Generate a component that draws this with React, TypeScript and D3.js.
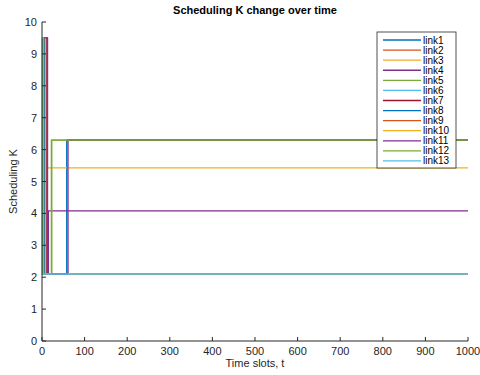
import React from 'react';
import * as d3 from 'd3';

// Scheduling K per link, step points [t, K]
const link1: [number, number][] = [[0, 9.5], [5, 9.5], [5, 2.1], [58, 2.1], [58, 6.3], [1000, 6.3]];
const link2: [number, number][] = [[0, 9.5], [9, 9.5], [9, 2.1], [1000, 2.1]];
const link3: [number, number][] = [[0, 9.5], [3, 9.5], [3, 2.1], [7, 2.1], [7, 5.43], [1000, 5.43]];
const link4: [number, number][] = [[0, 9.5], [13, 9.5], [13, 2.1], [15, 2.1], [15, 4.08], [1000, 4.08]];
const link5: [number, number][] = [[0, 9.5], [2, 9.5], [2, 2.1], [22, 2.1], [22, 6.3], [1000, 6.3]];
const link6: [number, number][] = [[0, 9.5], [4, 9.5], [4, 2.1], [1000, 2.1]];
const link7: [number, number][] = [[0, 9.5], [10, 9.5], [10, 2.1], [1000, 2.1]];
const link8: [number, number][] = [[0, 9.5], [6, 9.5], [6, 2.1], [1000, 2.1]];
const link9: [number, number][] = [[0, 9.5], [11, 9.5], [11, 2.1], [1000, 2.1]];
const link10: [number, number][] = [[0, 9.5], [8, 9.5], [8, 2.1], [1000, 2.1]];
const link11: [number, number][] = [[0, 9.5], [12, 9.5], [12, 2.1], [61, 2.1], [61, 6.3], [1000, 6.3]];
const link12: [number, number][] = [[0, 9.5], [1, 9.5], [1, 2.1], [23, 2.1], [23, 6.3], [1000, 6.3]];
const link13: [number, number][] = [[0, 9.5], [3, 9.5], [3, 2.1], [1000, 2.1]];

const linkNames = ['link1', 'link2', 'link3', 'link4', 'link5', 'link6', 'link7', 'link8', 'link9', 'link10', 'link11', 'link12', 'link13'];
const linkData = [link1, link2, link3, link4, link5, link6, link7, link8, link9, link10, link11, link12, link13];
const palette = ['#0072BD', '#D95319', '#EDB120', '#7E2F8E', '#77AC30', '#4DBEEE', '#A2142F'];

const xTicks = [0, 100, 200, 300, 400, 500, 600, 700, 800, 900, 1000];
const yTicks = [0, 1, 2, 3, 4, 5, 6, 7, 8, 9, 10];

const W = 480, H = 375;
const margin = {left: 42, right: 12, top: 22, bottom: 34};
const font = '"Liberation Sans", Arial, Helvetica, sans-serif';
const axisColor = '#262626';

export default function App() {
  const x = d3.scaleLinear().domain([0, 1000]).range([margin.left, W - margin.right]);
  const y = d3.scaleLinear().domain([0, 10]).range([H - margin.bottom, margin.top]);
  const line = d3.line<[number, number]>().x(d => x(d[0])).y(d => y(d[1]));
  const x0 = x(0), y0 = y(0);

  const legX = 377, legY = 32, legW = 79, rowH = 10.08;

  return (
    <svg width={W} height={H} style={{position: 'absolute', left: 0, top: 0, background: '#fff'}} fontFamily={font}>
      <rect width={W} height={H} fill="#fff" />
      {linkData.map((d, i) => (
        <path key={linkNames[i]} d={line(d) || ''} fill="none" stroke={palette[i % palette.length]} strokeWidth={1.3} />
      ))}
      {/* axes */}
      <line x1={x0} x2={x(1000)} y1={y0} y2={y0} stroke={axisColor} strokeWidth={1} />
      <line x1={x0} x2={x0} y1={y0} y2={y(10)} stroke={axisColor} strokeWidth={1} />
      {xTicks.map(t => (
        <g key={'x' + t}>
          <line x1={x(t)} x2={x(t)} y1={y0} y2={y0 - 4} stroke={axisColor} strokeWidth={1} />
          <text x={x(t)} y={y0 + 14} textAnchor="middle" fontSize={11} fill={axisColor}>{t}</text>
        </g>
      ))}
      {yTicks.map(t => (
        <g key={'y' + t}>
          <line x1={x0} x2={x0 + 4} y1={y(t)} y2={y(t)} stroke={axisColor} strokeWidth={1} />
          <text x={x0 - 5} y={y(t) + 4} textAnchor="end" fontSize={11} fill={axisColor}>{t}</text>
        </g>
      ))}
      <text x={(x0 + x(1000)) / 2} y={14} textAnchor="middle" fontSize={11} fontWeight="bold" fill="#000">Scheduling K change over time</text>
      <text x={(x0 + x(1000)) / 2} y={367} textAnchor="middle" fontSize={11} fill={axisColor}>Time slots, t</text>
      <text transform={`translate(17,${(y0 + y(10)) / 2}) rotate(-90)`} textAnchor="middle" fontSize={11} fill={axisColor}>Scheduling K</text>
      {/* legend */}
      <rect x={legX} y={legY} width={legW} height={136} fill="#fff" stroke={axisColor} strokeWidth={0.8} />
      {linkNames.map((n, i) => (
        <g key={'leg' + n}>
          <line x1={legX + 6} x2={legX + 44} y1={legY + 8 + i * rowH} y2={legY + 8 + i * rowH} stroke={palette[i % palette.length]} strokeWidth={1.3} />
          <text x={legX + 46} y={legY + 11.5 + i * rowH} fontSize={10} fill="#000">{n}</text>
        </g>
      ))}
    </svg>
  );
}
